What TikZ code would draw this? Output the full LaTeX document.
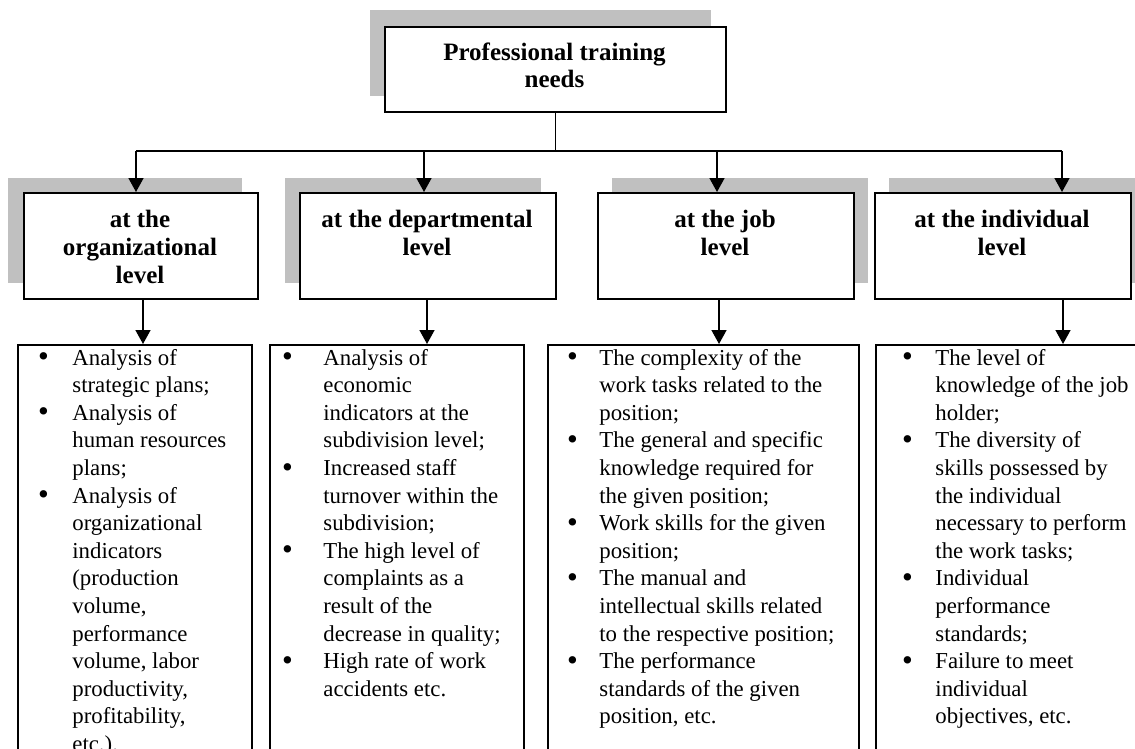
\documentclass[tikz,border=0pt]{standalone}
\usepackage{fontspec}
\usepackage{graphicx}
\setmainfont{Liberation Serif}
\usetikzlibrary{arrows.meta}
\definecolor{shade}{RGB}{192,192,192}
% bullet placed to the left of the text column, at distance \bulgap
\newlength\bulgap
\setlength\bulgap{11.8pt}
\newcommand\bul{\llap{\raisebox{-0.07em}{\scalebox{1.35}{\textbullet}}\hspace{\bulgap}}}
\tikzset{
  box/.style={draw, line width=0.9pt, fill=white, inner sep=0pt, anchor=north west},
  shadowfill/.style={fill=shade},
  headtxt/.style={inner sep=0pt, anchor=base, font=\bfseries\fontsize{12.5}{13.5}\selectfont},
  leveltxt/.style={inner sep=0pt, anchor=base, font=\bfseries\fontsize{12.5}{14.25}\selectfont},
  listtxt/.style={inner sep=0pt, anchor=base west, font=\fontsize{11.4}{13.8}\selectfont},
  conn/.style={line width=0.75pt},
  arr/.style={conn, -{Triangle[length=7pt,width=7.5pt]}}
}
\begin{document}
\begin{tikzpicture}[x=0.5pt,y=-0.5pt]
\useasboundingbox (0,0) rectangle (1135,749);
\clip (0,0) rectangle (1135,749);

% title box with its shadow
\fill[shadowfill] (370,10) rectangle ++(341,86);
\node[box, minimum width=170.5pt, minimum height=42.5pt] (top) at (384,26) {};
\node[headtxt] (toptxt) at (554.5,61) {\begin{tabular}[t]{@{}c@{}}Professional training\\needs\end{tabular}};

% level boxes with their shadows
\fill[shadowfill] (8,178) rectangle ++(234,105);
\fill[shadowfill] (285,178) rectangle ++(256,105);
\fill[shadowfill] (612,178) rectangle ++(256,105);
\fill[shadowfill] (889,178) rectangle ++(256,105);
\node[box, minimum width=117pt, minimum height=53pt] (lv1) at (23,192) {};
\node[box, minimum width=128pt, minimum height=53pt] (lv2) at (299,192) {};
\node[box, minimum width=128pt, minimum height=53pt] (lv3) at (597,192) {};
\node[box, minimum width=128pt, minimum height=53pt] (lv4) at (874,192) {};
\node[leveltxt] (lv1txt) at (140,227) {\begin{tabular}[t]{@{}c@{}}at the\\organizational\\level\end{tabular}};
\node[leveltxt] (lv2txt) at (427,227) {\begin{tabular}[t]{@{}c@{}}at the departmental\\level\end{tabular}};
\node[leveltxt] (lv3txt) at (725,227) {\begin{tabular}[t]{@{}c@{}}at the job\\level\end{tabular}};
\node[leveltxt] (lv4txt) at (1002,227) {\begin{tabular}[t]{@{}c@{}}at the individual\\level\end{tabular}};

% list boxes (run past the lower edge)
\node[box, minimum width=117pt, minimum height=225pt] (l1) at (17,344) {};
\node[box, minimum width=127pt, minimum height=225pt] (l2) at (269,344) {};
\node[box, minimum width=155.5pt, minimum height=225pt] (l3) at (547,344) {};
\node[box, minimum width=150pt, minimum height=225pt] (l4) at (875,344) {};

\node[listtxt] (l1txt) at (72,365) {\setlength\bulgap{11.8pt}\begin{tabular}[t]{@{}l@{}}
\bul Analysis of\\
strategic plans;\\
\bul Analysis of\\
human resources\\
plans;\\
\bul Analysis of\\
organizational\\
indicators\\
(production\\
volume,\\
performance\\
volume, labor\\
productivity,\\
profitability,\\
etc.).
\end{tabular}};
\node[listtxt] (l2txt) at (323,365) {\setlength\bulgap{15.3pt}\begin{tabular}[t]{@{}l@{}}
\bul Analysis of\\
economic\\
indicators at the\\
subdivision level;\\
\bul Increased staff\\
turnover within the\\
subdivision;\\
\bul The high level of\\
complaints as a\\
result of the\\
decrease in quality;\\
\bul High rate of work\\
accidents etc.
\end{tabular}};
\node[listtxt] (l3txt) at (599,365) {\setlength\bulgap{10.8pt}\begin{tabular}[t]{@{}l@{}}
\bul The complexity of the\\
work tasks related to the\\
position;\\
\bul The general and specific\\
knowledge required for\\
the given position;\\
\bul Work skills for the given\\
position;\\
\bul The manual and\\
intellectual skills related\\
to the respective position;\\
\bul The performance\\
standards of the given\\
position, etc.
\end{tabular}};
\node[listtxt] (l4txt) at (935,365) {\setlength\bulgap{11.3pt}\begin{tabular}[t]{@{}l@{}}
\bul The level of\\
knowledge of the job\\
holder;\\
\bul The diversity of\\
skills possessed by\\
the individual\\
necessary to perform\\
the work tasks;\\
\bul Individual\\
performance\\
standards;\\
\bul Failure to meet\\
individual\\
objectives, etc.
\end{tabular}};

% connectors: trunk, bus and arrows into the level boxes
\coordinate (b1) at (136,151);
\coordinate (b2) at (424,151);
\coordinate (b3) at (717,151);
\coordinate (b4) at (1062,151);
\draw[conn] (top.south) -- (top.south |- b1);
\draw[conn] (b1) -- (b4);
\draw[arr] (b1) -- (b1 |- lv1.north);
\draw[arr] (b2) -- (b2 |- lv2.north);
\draw[arr] (b3) -- (b3 |- lv3.north);
\draw[arr] (b4) -- (b4 |- lv4.north);

% arrows from the level boxes to the lists
\coordinate (d1) at (143,0);
\coordinate (d2) at (427,0);
\coordinate (d3) at (719,0);
\coordinate (d4) at (1063,0);
\draw[arr] (d1 |- lv1.south) -- (d1 |- l1.north);
\draw[arr] (d2 |- lv2.south) -- (d2 |- l2.north);
\draw[arr] (d3 |- lv3.south) -- (d3 |- l3.north);
\draw[arr] (d4 |- lv4.south) -- (d4 |- l4.north);
\end{tikzpicture}
\end{document}
